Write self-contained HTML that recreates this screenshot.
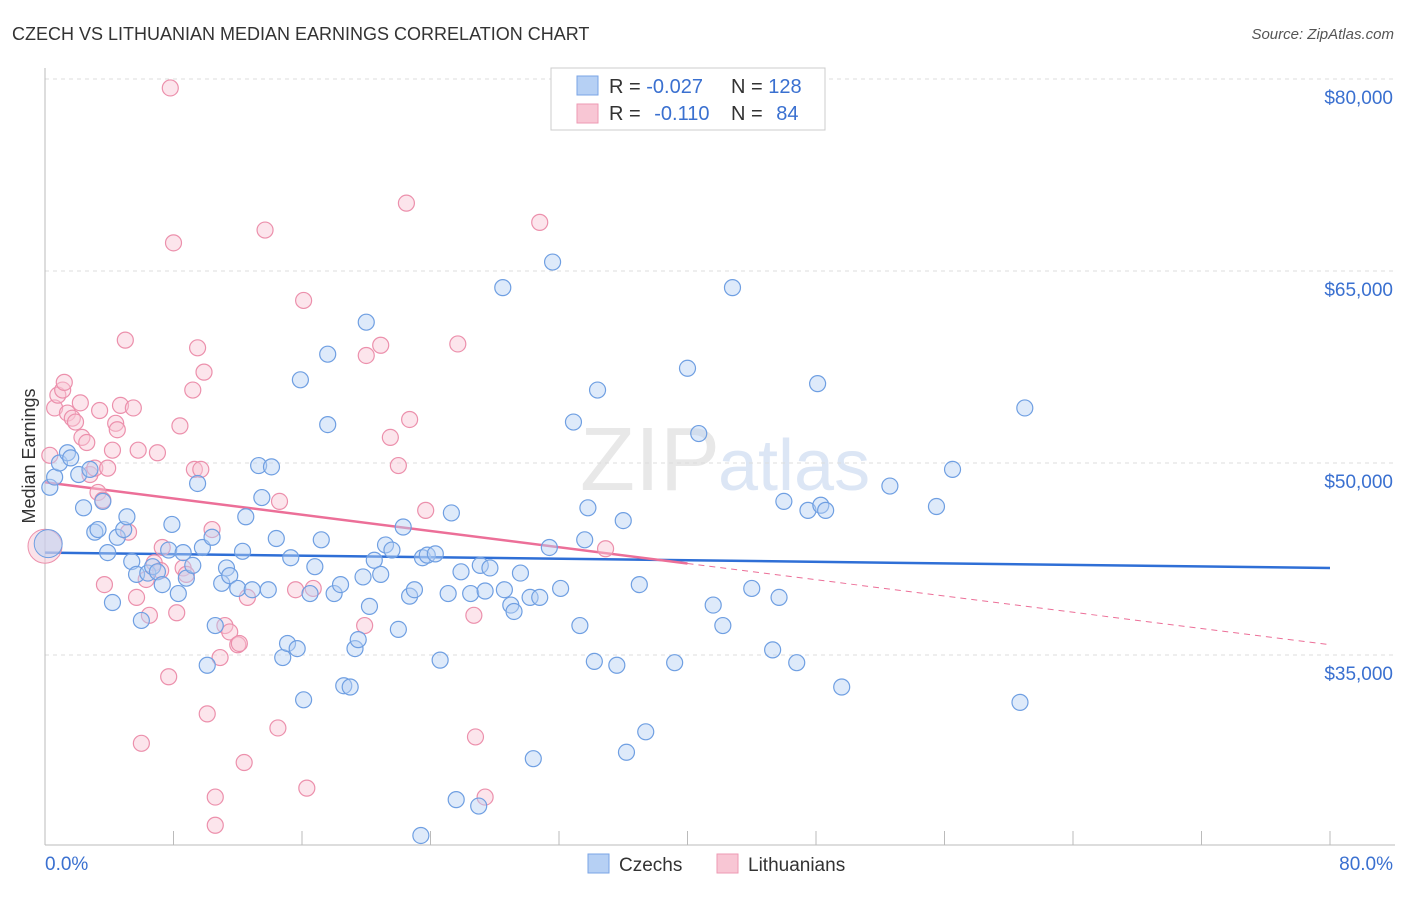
<!DOCTYPE html>
<html><head><meta charset="utf-8"><style>
body{margin:0;background:#fff;font-family:"Liberation Sans",sans-serif}
svg text{font-family:"Liberation Sans",sans-serif}
</style></head><body>
<svg id="chart" width="1406" height="892">
<text x="12" y="40" font-size="18" fill="#333">CZECH VS LITHUANIAN MEDIAN EARNINGS CORRELATION CHART</text>
<text x="1394" y="39" font-size="15" fill="#555" text-anchor="end" font-style="italic">Source: ZipAtlas.com</text>
<text x="35" y="456" font-size="18" fill="#333" text-anchor="middle" transform="rotate(-90 35 456)">Median Earnings</text>
<text x="720" y="490" font-size="90" fill="#e8e8e8" text-anchor="end" font-family="Liberation Serif">ZIP</text>
<text x="718" y="490" font-size="72" fill="#dce6f5">atlas</text>
<g id="grid"></g><g id="axes"></g><g id="trends"></g><g id="pts"></g>
<g>
<rect x="551" y="68" width="274" height="62" fill="#fff" stroke="#ccc"/>
<rect x="577" y="76" width="21" height="19" fill="#b6d0f4" stroke="#7aa4e6"/>
<rect x="577" y="104" width="21" height="19" fill="#f8c6d4" stroke="#ee9ab3"/>
<text x="609" y="93" font-size="20" fill="#333">R = <tspan fill="#3a70d0">-0.027</tspan></text>
<text x="731" y="93" font-size="20" fill="#333">N = <tspan fill="#3a70d0">128</tspan></text>
<text x="609" y="120" font-size="20" fill="#333">R = <tspan fill="#3a70d0" dx="8">-0.110</tspan></text>
<text x="731" y="120" font-size="20" fill="#333">N = <tspan fill="#3a70d0" dx="8">84</tspan></text>
</g>
<g>
<rect x="588" y="854" width="21" height="19" fill="#b6d0f4" stroke="#7aa4e6"/>
<text x="619" y="871" font-size="19" fill="#333">Czechs</text>
<rect x="717" y="854" width="21" height="19" fill="#f8c6d4" stroke="#ee9ab3"/>
<text x="748" y="871" font-size="19" fill="#333">Lithuanians</text>
</g>
</svg>
<script>
const czX=[0.3,0.6,0.9,1.4,1.6,2.1,2.4,2.8,3.1,3.3,3.6,3.9,4.2,4.5,4.9,5.1,5.4,5.7,6.0,6.4,6.7,7.0,7.3,7.7,7.9,8.3,8.6,8.8,9.2,9.5,9.8,10.1,10.4,10.6,11.0,11.3,11.5,12.0,12.3,12.5,12.9,13.3,13.5,13.9,14.1,14.4,14.8,15.1,15.3,15.7,15.9,16.1,16.5,16.8,17.2,17.6,17.6,18.0,18.4,18.6,19.0,19.3,19.5,19.8,20.0,20.2,20.5,20.9,21.2,21.6,22.0,22.3,22.7,23.0,23.4,23.5,23.8,24.3,24.6,25.1,25.3,25.6,25.9,26.5,27.0,27.1,27.4,27.7,28.5,28.6,29.0,29.2,29.6,30.2,30.4,30.8,31.4,31.6,32.1,32.9,33.3,33.6,33.8,34.2,34.4,35.6,36.0,36.2,37.0,37.4,39.2,40.0,40.7,41.6,42.2,42.8,44.0,45.3,45.7,46.0,46.8,47.5,48.1,48.3,48.6,49.6,52.6,55.5,56.5,60.7,61.0];
const czY=[48.1,48.9,50.0,50.8,50.4,49.1,46.5,49.5,44.6,44.8,47.0,43.0,39.1,44.2,44.8,45.8,42.3,41.3,37.7,41.4,41.9,41.5,40.5,43.2,45.2,39.8,43.0,41.0,42.0,48.4,43.4,34.2,44.2,37.3,40.6,41.8,41.2,40.2,43.1,45.8,40.1,49.8,47.3,40.1,49.7,44.1,34.8,35.9,42.6,35.5,56.5,31.5,39.8,41.9,44.0,53.0,58.5,39.8,40.5,32.6,32.5,35.5,36.2,41.1,61.0,38.8,42.4,41.3,43.6,43.2,37.0,45.0,39.6,40.1,20.9,42.6,42.8,42.9,34.6,39.8,46.1,23.7,41.5,39.8,23.2,42.0,40.0,41.8,63.7,40.1,38.9,38.4,41.4,39.5,26.9,39.5,43.4,65.7,40.2,53.2,37.3,44.0,46.5,34.5,55.7,34.2,45.5,27.4,40.5,29.0,34.4,57.4,52.3,38.9,37.3,63.7,40.2,35.4,39.5,47.0,34.4,46.3,56.2,46.7,46.3,32.5,48.2,46.6,49.5,31.3,54.3];
const ltX=[0.3,0.6,0.8,1.1,1.2,1.4,1.7,1.9,2.2,2.3,2.6,2.8,3.1,3.3,3.4,3.6,3.7,3.9,4.2,4.4,4.5,4.7,5.0,5.2,5.5,5.7,5.8,6.0,6.3,6.5,6.8,7.0,7.2,7.3,7.7,7.8,8.0,8.2,8.4,8.6,8.8,9.2,9.3,9.5,9.7,9.9,10.1,10.4,10.6,10.6,10.9,11.2,11.5,12.0,12.1,12.4,12.6,13.7,14.5,14.6,15.6,16.1,16.3,16.7,19.9,20.0,20.9,21.5,22.0,22.5,22.7,23.7,25.7,26.7,26.8,27.4,30.8,34.9];
const ltY=[50.6,54.3,55.3,55.7,56.3,53.9,53.5,53.2,54.7,52.0,51.6,49.1,49.6,47.7,54.1,47.1,40.5,49.6,51.0,53.1,52.6,54.5,59.6,44.6,54.3,39.5,51.0,28.1,40.9,38.1,42.2,50.8,41.6,43.4,33.3,79.3,67.2,38.3,52.9,41.8,41.3,55.7,49.5,59.0,49.5,57.1,30.4,44.8,23.9,21.7,34.8,37.3,36.8,35.8,35.9,26.6,39.5,68.2,29.3,47.0,40.1,62.7,24.6,40.2,37.3,58.4,59.2,52.0,49.8,70.3,53.4,46.3,59.3,38.1,28.6,23.9,68.8,43.3];
const czTrend=[43.0,41.8];
const ltTrend=[48.5,35.8];
const yTicks=[35000,50000,65000,80000];
const yTickLabels=["$35,000","$50,000","$65,000","$80,000"];
const xTicks=[0,8,16,24,32,40,48,56,64,72,80];
const NS='http://www.w3.org/2000/svg';
const X=p=>45+p*1285/80;
const Y=k=>79+(80-k)*12.8;
function mk(t,a,parent){const e=document.createElementNS(NS,t);for(const k in a)e.setAttribute(k,a[k]);document.getElementById(parent).appendChild(e);return e;}
yTicks.forEach((v,i)=>{
 const l=mk('line',{x1:45,x2:1395,y1:Y(v/1000),y2:Y(v/1000),stroke:'#ddd','stroke-dasharray':'4,4'},'grid');
 
 
 const t=mk('text',{x:1393,y:Y(v/1000)+25,'font-size':19,fill:'#3a70d0','text-anchor':'end'},'axes');
 t.textContent=yTickLabels[i];
 
 
});
const ax=mk('line',{x1:45,x2:1395,y1:845,y2:845,stroke:'#bbb'},'axes');


const ay=mk('line',{x1:45,x2:45,y1:68,y2:845,stroke:'#bbb'},'axes');


xTicks.forEach(p=>{
 const l=mk('line',{x1:X(p),x2:X(p),y1:831,y2:845,stroke:'#bbb'},'axes');
 
 
});
const t0=mk('text',{x:45,y:870,'font-size':19,fill:'#3a70d0'},'axes');t0.textContent='0.0%';


const t1=mk('text',{x:1393,y:870,'font-size':19,fill:'#3a70d0','text-anchor':'end'},'axes');t1.textContent='80.0%';


function dots(xs,ys,fill,stroke,name){xs.forEach((x,i)=>{
 const c=mk('circle',{cx:X(x),cy:Y(ys[i]),r:8,fill:fill,'fill-opacity':0.45,stroke:stroke,'stroke-width':1.2},'pts');
 
 
});}
dots(ltX,ltY,'#f8c6d4','#ec90ac','lithuanian-point');
dots(czX,czY,'#b6d0f4','#6f9fe2','czech-point');
const bigL=mk('circle',{cx:X(0),cy:Y(43.5),r:17,fill:'#f8c6d4','fill-opacity':0.5,stroke:'#ec90ac'},'pts');


const bigC=mk('circle',{cx:X(0.2),cy:Y(43.7),r:14,fill:'#b6d0f4','fill-opacity':0.5,stroke:'#6f9fe2'},'pts');


const cl=mk('line',{x1:X(0),y1:Y(czTrend[0]),x2:X(80),y2:Y(czTrend[1]),stroke:'#2f6fd6','stroke-width':2.5},'trends');


const lm=ltTrend[0]+(ltTrend[1]-ltTrend[0])*0.5;
const l1=mk('line',{x1:X(0),y1:Y(ltTrend[0]),x2:X(40),y2:Y(lm),stroke:'#ec6f98','stroke-width':2.5},'trends');


const l2=mk('line',{x1:X(40),y1:Y(lm),x2:X(80),y2:Y(ltTrend[1]),stroke:'#ec6f98','stroke-width':1,'stroke-dasharray':'6,5'},'trends');


</script>
</body></html>
